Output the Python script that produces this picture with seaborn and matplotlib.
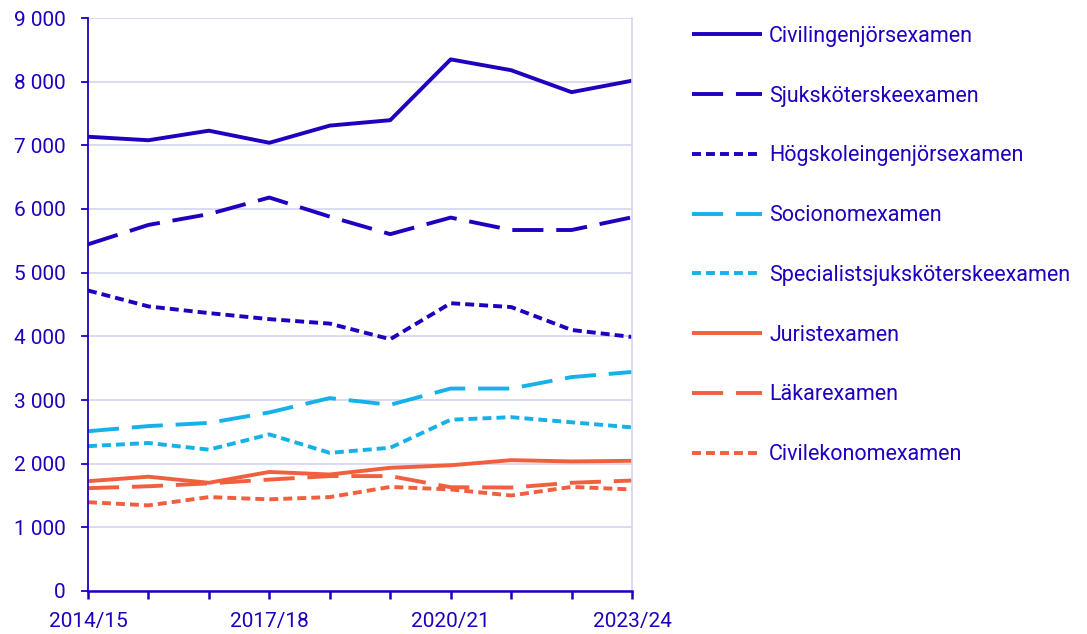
import matplotlib
matplotlib.use("Agg")
import matplotlib.pyplot as plt
from matplotlib.ticker import FuncFormatter
import seaborn as sns
import pandas as pd

years = ["2014/15", "2015/16", "2016/17", "2017/18", "2018/19",
         "2019/20", "2020/21", "2021/22", "2022/23", "2023/24"]

civilingenjor = [7135, 7080, 7230, 7040, 7310, 7395, 8350, 8180, 7835, 8015]
sjukskoterske = [5445, 5750, 5920, 6180, 5880, 5605, 5865, 5670, 5670, 5870]
hogskoleingenjor = [4720, 4470, 4365, 4270, 4200, 3955, 4520, 4460, 4100, 3990]
socionom = [2510, 2590, 2640, 2805, 3030, 2925, 3180, 3180, 3360, 3440]
specialist = [2275, 2325, 2220, 2460, 2170, 2250, 2690, 2730, 2650, 2570]
jurist = [1725, 1795, 1700, 1870, 1830, 1935, 1975, 2055, 2035, 2045]
lakare = [1615, 1645, 1690, 1750, 1805, 1805, 1630, 1625, 1700, 1735]
civilekonom = [1395, 1345, 1475, 1440, 1475, 1635, 1595, 1500, 1635, 1595]

series = {
    "Civilingenjörsexamen": civilingenjor,
    "Sjuksköterskeexamen": sjukskoterske,
    "Högskoleingenjörsexamen": hogskoleingenjor,
    "Socionomexamen": socionom,
    "Specialistsjuksköterskeexamen": specialist,
    "Juristexamen": jurist,
    "Läkarexamen": lakare,
    "Civilekonomexamen": civilekonom,
}
names = list(series)

DARK = "#1e00be"
LIGHT = "#16b1e8"
ORANGE = "#f0603f"
GRID = "#d4d4f2"

palette = dict(zip(names, [DARK, DARK, DARK, LIGHT, LIGHT, ORANGE, ORANGE, ORANGE]))
solid = (1, 0)
long_dash = (8, 3.3)
short_dash = (2.3, 1.3)
dashes = dict(zip(names, [solid, long_dash, short_dash, long_dash, short_dash,
                          solid, long_dash, short_dash]))

rows = []
for name, vals in series.items():
    for i, v in enumerate(vals):
        rows.append({"idx": i, "year": years[i], "serie": name, "antal": v})
df = pd.DataFrame(rows)

sns.set_style("white")
plt.rcParams["font.family"] = ["Roboto", "DejaVu Sans"]

fig = plt.figure(figsize=(10.87, 6.34), dpi=100)
ax = fig.add_axes([88 / 1087, 1 - 591 / 634, (632 - 88) / 1087, (591 - 18) / 634])

sns.lineplot(data=df, x="idx", y="antal", hue="serie", style="serie",
             hue_order=names, style_order=names, palette=palette,
             dashes=dashes, linewidth=2.8, legend=False, ax=ax)

ax.set_xlim(0, len(years) - 1)
ax.set_ylim(0, 9000)
ax.set_yticks(range(0, 9001, 1000))
ax.yaxis.set_major_formatter(FuncFormatter(lambda v, p: f"{int(v):,}".replace(",", " ")))
ax.set_xticks(range(len(years)))
ax.set_xticklabels([y if i % 3 == 0 else "" for i, y in enumerate(years)])
ax.set_xlabel("")
ax.set_ylabel("")

ax.grid(axis="y", color=GRID, linewidth=1.2)
ax.set_axisbelow(True)
for side in ["top", "right"]:
    ax.spines[side].set_color(GRID)
    ax.spines[side].set_linewidth(1.2)
ax.spines["top"].set_visible(False)
ax.spines["left"].set_color(DARK)
ax.spines["left"].set_linewidth(1.3)
ax.spines["bottom"].set_color(DARK)
ax.spines["bottom"].set_linewidth(1.8)

ax.tick_params(axis="y", length=5, width=1.3, color=DARK, labelcolor=DARK,
               labelsize=15, pad=11, left=True)
ax.tick_params(axis="x", length=6, width=1.8, color=DARK, labelcolor=DARK,
               labelsize=15, pad=9, bottom=True)

handles = ax.get_lines()[:len(names)]
for h, n in zip(handles, names):
    h.set_label(n)
leg = ax.legend(handles=handles, labels=names, loc="upper left",
                bbox_to_anchor=(692 / 1087, 1 - 26 / 634), bbox_transform=fig.transFigure,
                frameon=False, fontsize=15.5, handlelength=3.25, handletextpad=0.33,
                labelspacing=1.8, borderpad=0, borderaxespad=0)
for t in leg.get_texts():
    t.set_color(DARK)

fig.savefig("out.png", dpi=100)
